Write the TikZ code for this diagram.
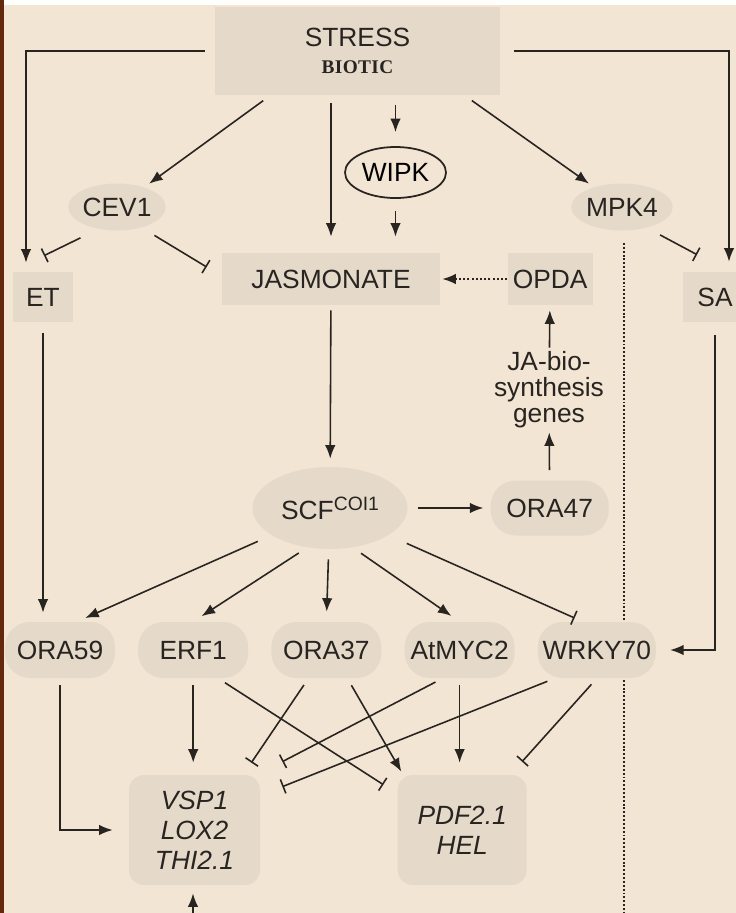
\documentclass[tikz,border=0pt]{standalone}
\usepackage{fontspec}
\setmainfont{Liberation Sans}
\newfontfamily\biofont{Liberation Serif}[LetterSpace=2]
\usetikzlibrary{shapes.geometric, arrows.meta, positioning}
\definecolor{paper}{RGB}{243,229,212}
\definecolor{shade}{RGB}{229,217,202}
\definecolor{ink}{RGB}{40,36,32}
\definecolor{rim}{RGB}{100,40,15}
\tikzset{
    % shaded blocks and ovals, no outline
    box/.style = {rectangle, fill=shade, text=ink, inner sep=2pt, align=center, font=\fontsize{15}{16}\selectfont},
    oval/.style = {ellipse, fill=shade, text=ink, inner sep=0pt, font=\fontsize{15}{16}\selectfont},
    pill/.style = {rectangle, rounded corners=0.5cm, fill=shade, text=ink, minimum width=2.2cm, minimum height=1.12cm, inner sep=1pt, font=\fontsize{15}{16}\selectfont},
    genes/.style = {rectangle, rounded corners=0.3cm, fill=shade, text=ink, minimum width=2.6cm, minimum height=2.2cm, align=center, font=\fontsize{15}{17}\selectfont\itshape},
    arrow/.style = {draw=ink, line width=0.9pt, -{Latex[length=0.27cm,width=0.21cm]}},
    inhibit/.style = {draw=ink, line width=0.9pt, -{Bar[width=0.3cm]}},
    separator/.style = {draw=ink, line width=0.9pt, dash pattern=on 1.1pt off 1.1pt}
}

\begin{document}
\begin{tikzpicture}

\useasboundingbox (0,0) rectangle (14.72,-18.26);
\fill[paper] (0,0) rectangle (14.72,-18.26);
\fill[white!95!paper] (0,0) rectangle (14.72,-0.1);
\fill[rim] (0,0) rectangle (0.08,-18.26);

% Dotted divider, kept behind the nodes
\coordinate (septop) at (12.48,-4.86);
\coordinate (sepbot) at (12.48,-18.4);
\draw[separator] (septop) -- (sepbot);

% Nodes
\node[box, minimum width=5.7cm, minimum height=1.76cm] (stress) at (7.15,-1.02) {STRESS\\[-1pt]{\biofont\bfseries\fontsize{11}{13}\selectfont BIOTIC}};
\node[ellipse, draw=ink, line width=1pt, inner sep=0pt, minimum width=2.02cm, minimum height=1.02cm, font=\fontsize{15}{16}\selectfont] (wipk) at (7.91,-3.45) {WIPK};
\node[oval, minimum width=1.92cm, minimum height=0.94cm] (cev1) at (2.34,-4.14) {CEV1};
\node[oval, minimum width=1.96cm, minimum height=0.94cm] (mpk4) at (12.44,-4.14) {MPK4};
\node[box, minimum width=1.2cm, minimum height=1.0cm] (et) at (0.86,-5.94) {ET};
\node[box, minimum width=1.28cm, minimum height=1.0cm] (sa) at (14.3,-5.94) {SA};
\node[box, minimum width=4.36cm, minimum height=1.04cm] (jasm) at (6.62,-5.58) {JASMONATE};
\node[box, minimum width=1.7cm, minimum height=1.04cm, right=1.34cm of jasm] (opda) {OPDA};
\node[align=center, inner sep=1pt, text=ink, font=\fontsize{15}{14.8}\selectfont] (jabio) at (10.98,-7.8) {JA-bio-\\synthesis\\genes};
\node[oval, minimum width=3.1cm, minimum height=1.64cm] (scf) at (6.6,-10.16) {SCF{\fontsize{11}{12}\selectfont\raisebox{0.9ex}{COI1}}};
\node[pill, minimum width=2.36cm, minimum height=1.1cm, right=1.65cm of scf] (ora47) {ORA47};

\node[pill] (ora59) at (1.2,-13.0) {ORA59};
\node[pill, right=0.45cm of ora59] (erf1) {ERF1};
\node[pill, right=0.45cm of erf1] (ora37) {ORA37};
\node[pill, right=0.45cm of ora37] (atmyc2) {AtMYC2};
\node[pill, minimum width=2.36cm, right=0.45cm of atmyc2] (wrky70) {WRKY70};

\node[genes, minimum width=2.62cm] (vsp) at (3.89,-16.6) {VSP1\\LOX2\\THI2.1};
\node[genes, minimum width=2.58cm, right=2.74cm of vsp] (pdf) {PDF2.1\\HEL};

\coordinate (jainput) at (3.86,-18.8);

% Arrows from the stress signal
\draw[arrow, shorten <=0.2cm, shorten >=0.18cm] (stress.west) -| ([xshift=-0.34cm]et.north);
\draw[arrow, shorten <=0.28cm, shorten >=0.2cm] (stress.east) -| ([xshift=0.28cm]sa.north);
\draw[arrow, shorten <=0.18cm, shorten >=0.12cm] ([xshift=-1.74cm]stress.south) -- (cev1);
\draw[arrow, shorten <=0.18cm, shorten >=0.12cm] ([xshift=2.14cm]stress.south) -- (mpk4);
\draw[arrow, shorten <=0.16cm, shorten >=0.32cm] (stress.south -| jasm.north) -- (jasm.north);
\draw[arrow, shorten <=0.2cm, shorten >=0.28cm] (stress.south -| wipk.north) -- (wipk.north);
\draw[arrow, shorten <=0.24cm, shorten >=0.32cm] (wipk.south) -- (wipk.south |- jasm.north);

% Repression by CEV1 and MPK4
\draw[inhibit, shorten <=0.4cm] (cev1.230) -- ([xshift=0.02cm,yshift=0.32cm]et.north);
\draw[inhibit, shorten <=0.3cm] (cev1.320) -- ([xshift=-0.3cm,yshift=0.24cm]jasm.west);
\draw[inhibit, shorten <=0.3cm] (mpk4.320) -- ([xshift=-0.36cm,yshift=0.34cm]sa.north);

% Jasmonate loop
\draw[arrow, dash pattern=on 1.2pt off 1.2pt, shorten >=0.04cm] (opda) -- (jasm);
\draw[arrow, shorten <=0.1cm, shorten >=0.16cm] (jasm) -- (scf);
\draw[arrow, shorten <=0.2cm, shorten >=0.14cm] (scf) -- (ora47);
\draw[arrow, shorten <=0.2cm, shorten >=0.04cm] (ora47) -- (jabio);
\draw[arrow, shorten <=0.04cm, shorten >=0.1cm] (jabio) -- (opda);

% Down to the transcription factors
\draw[arrow, shorten <=0.22cm, shorten >=0.18cm] (et) -- (et |- ora59.north);
\draw[arrow, shorten <=0.26cm, shorten >=0.28cm] (sa.south) |- (wrky70.east);
\draw[arrow, shorten <=0.3cm, shorten >=0.18cm] (scf.205) -- ([xshift=0.34cm]ora59.north);
\draw[arrow, shorten <=0.2cm, shorten >=0.2cm] (scf.240) -- (erf1.north);
\draw[arrow, shorten <=0.2cm, shorten >=0.2cm] (scf) -- (ora37.north);
\draw[arrow, shorten <=0.2cm, shorten >=0.2cm] (scf.300) -- (atmyc2.north);
\draw[inhibit, shorten <=0.4cm, shorten >=0.18cm] (scf.335) -- ([xshift=-0.28cm]wrky70.north);

% Target genes
\draw[arrow, shorten <=0.14cm, shorten >=0.32cm] (ora59.south) |- (vsp.west);
\draw[arrow, shorten <=0.14cm, shorten >=0.24cm] (erf1.south) -- (erf1.south |- vsp.north);
\draw[inhibit, shorten <=0.16cm] ([xshift=0.5cm]erf1.south) -- ([xshift=-0.28cm,yshift=-0.2cm]pdf.north west);
\draw[inhibit, shorten <=0.16cm] ([xshift=-0.36cm]ora37.south) -- ([xshift=-0.18cm,yshift=0.24cm]vsp.north east);
\draw[arrow, shorten <=0.16cm] ([xshift=0.42cm]ora37.south) -- ([xshift=0.08cm,yshift=0.06cm]pdf.north west);
\draw[inhibit, shorten <=0.16cm] ([xshift=-0.34cm]atmyc2.south) -- ([xshift=0.44cm,yshift=0.26cm]vsp.north east);
\draw[arrow, shorten <=0.14cm, shorten >=0.24cm] (atmyc2.south) -- (atmyc2.south |- pdf.north);
\draw[inhibit, shorten <=0.16cm] ([xshift=-0.84cm]wrky70.south) -- ([xshift=0.44cm,yshift=-0.24cm]vsp.north east);
\draw[inhibit, shorten <=0.16cm] (wrky70.south) -- ([xshift=-0.1cm,yshift=0.26cm]pdf.north east);
\draw[arrow, shorten >=0.16cm] (jainput) -- (jainput |- vsp.south);

\end{tikzpicture}
\end{document}
